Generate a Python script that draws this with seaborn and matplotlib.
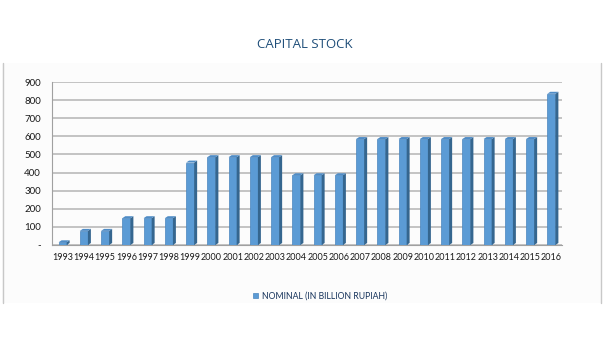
import matplotlib
matplotlib.use("Agg")
import matplotlib.pyplot as plt
import pandas as pd
import seaborn as sns
from matplotlib.patches import Polygon, Rectangle
from matplotlib.lines import Line2D

years = [str(y) for y in range(1993, 2017)]
nominal = [15, 78, 78, 148, 148, 148, 455,
           485, 485, 485, 485,
           385, 385, 385,
           585, 585, 585, 585, 585, 585, 585, 585, 585,
           835]
series_name = "NOMINAL (IN BILLION RUPIAH)"
y_ticks = [0, 100, 200, 300, 400, 500, 600, 700, 800, 900]
y_labels = ["-"] + [str(v) for v in y_ticks[1:]]

df = pd.DataFrame({"year": years, "value": nominal, "series": series_name})

sns.set_style("white")
plt.rcParams["font.family"] = ["Lato", "DejaVu Sans"]

fig = plt.figure(figsize=(6.04, 3.57), dpi=100)
fig.patch.set_facecolor("white")

# faint chart panel with grey side rules
H = 357.0
fig.patches.append(Rectangle((0.004, 1 - 303 / H), 0.992, (303 - 63) / H,
                             transform=fig.transFigure, facecolor="#fcfcfc",
                             edgecolor="none", zorder=-5))
for xf in (3 / 604, 601 / 604):
    fig.lines.append(Line2D([xf, xf], [1 - 303 / H, 1 - 63 / H],
                            transform=fig.transFigure, color="#c8c8c8", lw=1,
                            zorder=-4))

ax = fig.add_axes([52 / 604, 1 - 245 / H, 510 / 604, (245 - 82) / H])
ax.set_facecolor("none")
ax.set_zorder(2)

sns.barplot(data=df, x="year", y="value", hue="series", ax=ax,
            palette=["#5b9bd5"], width=0.38, saturation=1,
            edgecolor="#4a85bd", linewidth=0.5, zorder=3)

# fake 3D depth: side and top faces from each drawn bar
dx, dy = 0.14, 11
for p in list(ax.patches):
    x0, w, h = p.get_x(), p.get_width(), p.get_height()
    if h <= 0:
        continue
    side = Polygon([(x0 + w, 0), (x0 + w + dx, dy), (x0 + w + dx, h + dy), (x0 + w, h)],
                   closed=True, facecolor="#35668f", edgecolor="none", zorder=3)
    top = Polygon([(x0, h), (x0 + dx, h + dy), (x0 + w + dx, h + dy), (x0 + w, h)],
                  closed=True, facecolor="#4f8cc6", edgecolor="none", zorder=3)
    ax.add_patch(side)
    ax.add_patch(top)

ax.set_xlim(-0.5, len(years) - 0.5)
ax.set_ylim(0, 900)
ax.set_yticks(y_ticks)
ax.set_yticklabels(y_labels)
ax.yaxis.grid(True, color="#b4b4b4", linewidth=1.1, zorder=0)
ax.set_axisbelow(True)
for s in ["top", "right"]:
    ax.spines[s].set_visible(False)
ax.spines["left"].set_color("#a0a0a0")
ax.spines["bottom"].set_color("#a0a0a0")
ax.tick_params(axis="y", labelsize=7, colors="#1a1a1a", length=0, pad=8)
ax.tick_params(axis="x", labelsize=6.5, colors="#1a1a1a", length=3,
               color="#a0a0a0", pad=3)
ax.set_xlabel("")
ax.set_ylabel("")

fig.text(305 / 604, 1 - 45 / H, "CAPITAL STOCK", ha="center", va="center",
         fontsize=9.5, color="#1f4e79", family=["Open Sans", "DejaVu Sans"])

sns.move_legend(ax, "center", bbox_to_anchor=(320 / 604, 1 - 296 / H),
                bbox_transform=fig.transFigure, frameon=False, title=None,
                fontsize=6.2, handlelength=0.6, handleheight=0.6,
                handletextpad=0.4, labelcolor="#17345c")

fig.savefig("out.png", dpi=100)
